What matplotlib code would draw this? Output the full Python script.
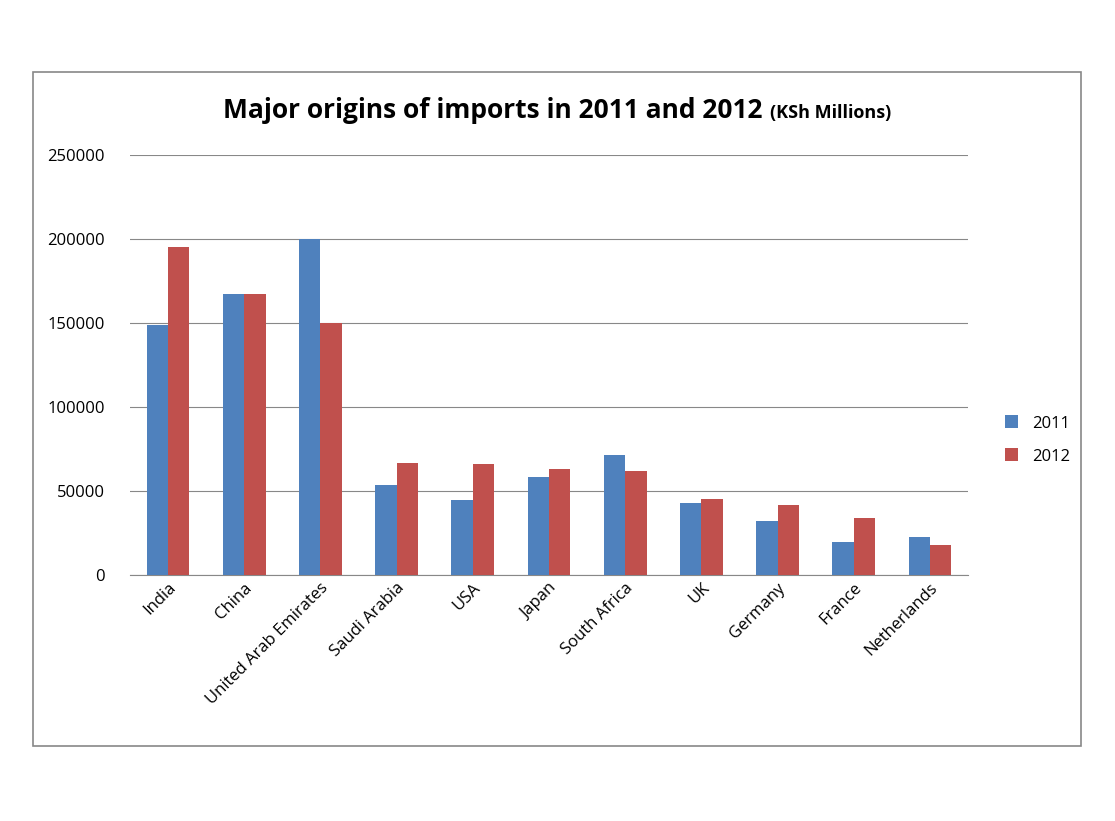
import matplotlib.pyplot as plt
import numpy as np
from matplotlib.patches import Rectangle

countries = ['India', 'China', 'United Arab Emirates', 'Saudi Arabia', 'USA', 'Japan',
             'South Africa', 'UK', 'Germany', 'France', 'Netherlands']
v2011 = [149000, 167000, 200000, 53500, 44600, 58300, 71400, 42900, 32100, 19600, 22600]
v2012 = [195500, 167000, 150000, 66700, 66100, 63100, 61900, 45200, 41700, 33900, 17900]

plt.rcParams['font.family'] = ['Open Sans', 'DejaVu Sans']

W, H = 1115, 821
fig = plt.figure(figsize=(W / 100, H / 100), dpi=100)
fig.patches.append(Rectangle((33 / W, 1 - 746 / H), (1081 - 33) / W, (746 - 72) / H,
                             transform=fig.transFigure, fill=False, edgecolor='#888888', lw=1.2))

ax = fig.add_axes([130 / W, 1 - 575 / H, (968 - 130) / W, (575 - 155) / H])
x = np.arange(len(countries))
bw = 0.28
ax.bar(x - bw / 2, v2011, bw, color='#4F81BD', label='2011', zorder=3)
ax.bar(x + bw / 2, v2012, bw, color='#C0504D', label='2012', zorder=3)

ax.set_xlim(-0.5, len(countries) - 0.5)
ax.set_ylim(0, 250000)
ax.set_yticks(range(0, 250001, 50000))
ax.yaxis.grid(True, color='#888888', lw=0.8, zorder=0)
ax.tick_params(axis='y', length=0, labelsize=12, pad=18)
ax.tick_params(axis='x', length=0, labelsize=12)
ax.set_xticks(x)
ax.set_xticklabels(countries, rotation=45, ha='right', rotation_mode='anchor')
for s in ['top', 'right', 'left']:
    ax.spines[s].set_visible(False)
ax.spines['bottom'].set_color('#888888')

# title: big bold part plus smaller "(KSh Millions)"
t1 = fig.text(0.5, 1 - 110 / H, 'Major origins of imports in 2011 and 2012 ',
              fontsize=19, fontweight='bold', ha='left', va='center')
t2 = fig.text(0, 1 - 113 / H, '(KSh Millions)', fontsize=13, fontweight='bold', va='center')
fig.canvas.draw()
r = fig.canvas.get_renderer()
w1 = t1.get_window_extent(r).width
w2 = t2.get_window_extent(r).width
start = 557 - (w1 + w2) / 2
t1.set_x(start / W)
t2.set_x((start + w1) / W)

fig.legend(loc='center left', bbox_to_anchor=(990 / W, 1 - 440 / H), frameon=False,
           fontsize=12, handlelength=0.8, handleheight=0.8, labelspacing=1.0)

fig.savefig('out.png', dpi=100)
